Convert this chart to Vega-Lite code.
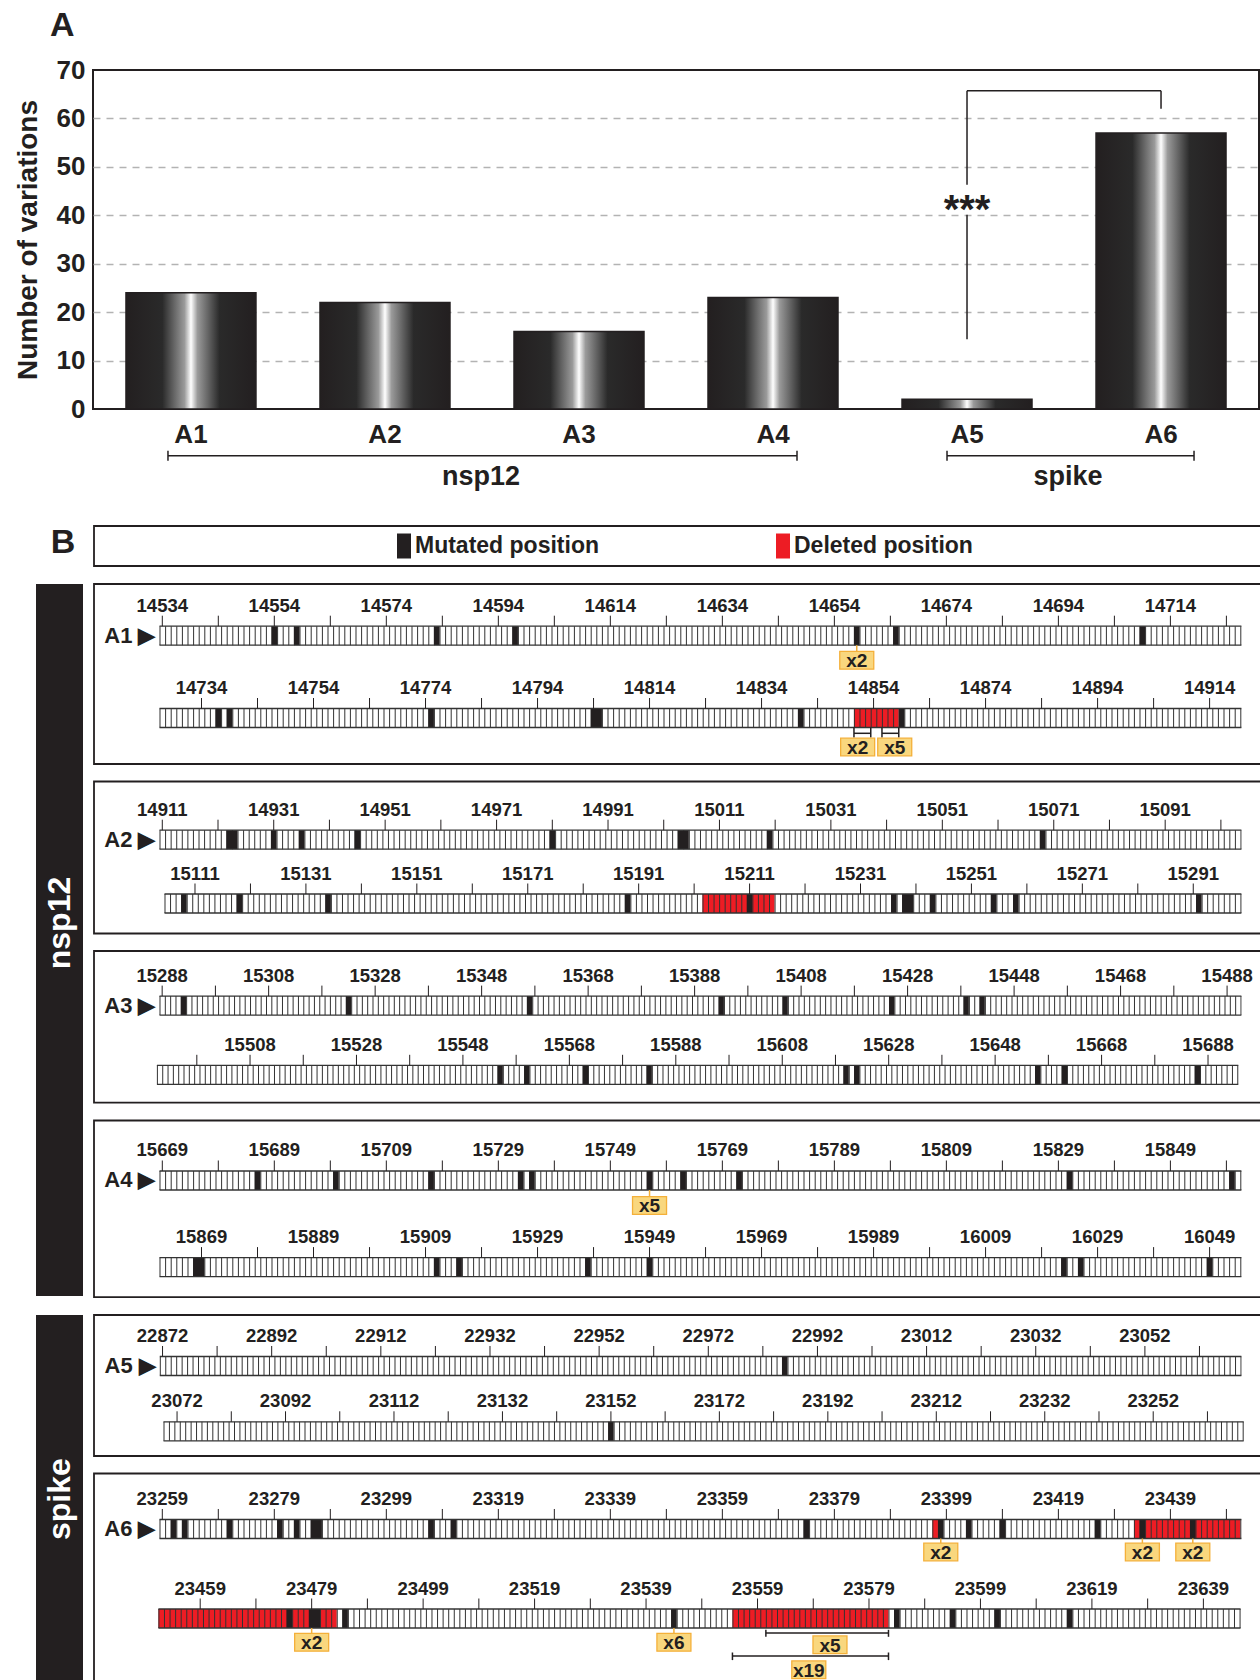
{
"$schema":"https://vega.github.io/schema/vega-lite/v6.json",
"padding":{"left":13,"top":8,"right":0,"bottom":0},
"background":"white",
"spacing":16,
"config":{"view":{"stroke":null},"text":{"font":"Liberation Sans","fontWeight":"bold","color":"#231f20"},"rule":{"color":"#231f20"},"axis":{"labelFont":"Liberation Sans","titleFont":"Liberation Sans"},"title":{"font":"Liberation Sans"}},
"vconcat":[
{"bounds":"flush","spacing":10,"hconcat":[
{"width":47,"height":1,"data":{"values":[{}]},"mark":{"type":"point","size":0,"opacity":0}},
{
"width":1166,"height":339,
"view":{"stroke":"#231f20","strokeWidth":2},
"title":{"text":"A","anchor":"start","frame":"group","dx":-43,"offset":14,"fontSize":34,"fontWeight":"bold","color":"#231f20"},
"layer":[
{"data":{"values":[{"g":"A1","n":24},{"g":"A2","n":22},{"g":"A3","n":16},{"g":"A4","n":23},{"g":"A5","n":2},{"g":"A6","n":57}]},
"mark":{"type":"bar","fill":{"gradient":"linear","x1":0,"y1":0,"x2":1,"y2":0,"stops":[{"offset":0,"color":"#231f20"},{"offset":0.28,"color":"#2a2a2a"},{"offset":0.45,"color":"#9a9a9a"},{"offset":0.5,"color":"#ffffff"},{"offset":0.55,"color":"#9a9a9a"},{"offset":0.72,"color":"#2a2a2a"},{"offset":1,"color":"#231f20"}]},"stroke":"#231f20","strokeWidth":1.5},
"encoding":{
"x":{"field":"g","type":"nominal","scale":{"domain":["A1","A2","A3","A4","A5","A6"],"paddingInner":0.33,"paddingOuter":0.17},"axis":{"title":null,"labelAngle":0,"labelFontSize":26,"labelFontWeight":"bold","labelColor":"#231f20","labelPadding":12,"ticks":false,"domain":false}},
"y":{"field":"n","type":"quantitative","scale":{"domain":[0,70],"nice":false},"axis":{"title":"Number of variations","titleFontSize":28,"titleFontWeight":"bold","titleColor":"#231f20","titlePadding":14,"labelFontSize":26,"labelFontWeight":"bold","labelColor":"#231f20","labelPadding":8,"ticks":false,"domain":false,"values":[0,10,20,30,40,50,60,70],"grid":true,"gridColor":"#b3b3b3","gridDash":[7,6],"gridWidth":1.5,"gridOpacity":{"condition":{"test":"datum.value==0 || datum.value==70","value":0},"value":1}}}
}},
{"data":{"values":[{"g":"A5"}]},"mark":{"type":"rule","strokeWidth":1.5},"encoding":{"x":{"field":"g","type":"nominal"},"y":{"datum":14.4,"type":"quantitative"},"y2":{"datum":40.1}}},
{"data":{"values":[{"g":"A5"}]},"mark":{"type":"rule","strokeWidth":1.5},"encoding":{"x":{"field":"g","type":"nominal"},"y":{"datum":46.3,"type":"quantitative"},"y2":{"datum":65.7}}},
{"data":{"values":[{"g":"A6"}]},"mark":{"type":"rule","strokeWidth":1.5},"encoding":{"x":{"field":"g","type":"nominal"},"y":{"datum":62,"type":"quantitative"},"y2":{"datum":65.7}}},
{"data":{"values":[{"g":"A5"},{"g":"A6"}]},"mark":{"type":"line","strokeWidth":1.5,"color":"#231f20"},"encoding":{"x":{"field":"g","type":"nominal"},"y":{"datum":65.7,"type":"quantitative"}}},
{"data":{"values":[{"g":"A5"}]},"mark":{"type":"text","text":"***","fontSize":40,"baseline":"middle","dy":12},"encoding":{"x":{"field":"g","type":"nominal"},"y":{"datum":43.4,"type":"quantitative"}}},
{"data":{"values":[{"g":"A1","h":"A4"}]},"mark":{"type":"rule","strokeWidth":1.5,"xOffset":-23,"x2Offset":24},"encoding":{"x":{"field":"g","type":"nominal"},"x2":{"field":"h","bandPosition":0.5},"y":{"datum":-9.64,"type":"quantitative"}}},
{"data":{"values":[{"g":"A1"}]},"mark":{"type":"rule","strokeWidth":1.5,"xOffset":-23,"yOffset":-5,"y2Offset":5},"encoding":{"x":{"field":"g","type":"nominal"},"y":{"datum":-9.64,"type":"quantitative"},"y2":{"datum":-9.64}}},
{"data":{"values":[{"g":"A4"}]},"mark":{"type":"rule","strokeWidth":1.5,"xOffset":24,"yOffset":-5,"y2Offset":5},"encoding":{"x":{"field":"g","type":"nominal"},"y":{"datum":-9.64,"type":"quantitative"},"y2":{"datum":-9.64}}},
{"data":{"values":[{"g":"A5","h":"A6"}]},"mark":{"type":"rule","strokeWidth":1.5,"xOffset":-20,"x2Offset":33},"encoding":{"x":{"field":"g","type":"nominal"},"x2":{"field":"h","bandPosition":0.5},"y":{"datum":-9.64,"type":"quantitative"}}},
{"data":{"values":[{"g":"A5"}]},"mark":{"type":"rule","strokeWidth":1.5,"xOffset":-20,"yOffset":-5,"y2Offset":5},"encoding":{"x":{"field":"g","type":"nominal"},"y":{"datum":-9.64,"type":"quantitative"},"y2":{"datum":-9.64}}},
{"data":{"values":[{"g":"A6"}]},"mark":{"type":"rule","strokeWidth":1.5,"xOffset":33,"yOffset":-5,"y2Offset":5},"encoding":{"x":{"field":"g","type":"nominal"},"y":{"datum":-9.64,"type":"quantitative"},"y2":{"datum":-9.64}}},
{"data":{"values":[{"g":"A3"}]},"mark":{"type":"text","text":"nsp12","fontSize":27,"baseline":"middle","xOffset":-98},"encoding":{"x":{"field":"g","type":"nominal"},"y":{"datum":-14.1,"type":"quantitative"}}},
{"data":{"values":[{"g":"A6"}]},"mark":{"type":"text","text":"spike","fontSize":27,"baseline":"middle","xOffset":-93},"encoding":{"x":{"field":"g","type":"nominal"},"y":{"datum":-14.1,"type":"quantitative"}}}
]
}
]},
{"width":47,"height":1,"data":{"values":[{}]},"mark":{"type":"point","size":0,"opacity":0}},
{"spacing":10,"hconcat":[
{"width":47,"height":40,"data":{"values":[{}]},"mark":{"type":"text","text":"B","fontSize":34,"baseline":"middle","dx":3.5,"dy":-3}},
{"width":1168,"height":40,"view":{"stroke":"#231f20","strokeWidth":1.8},
"data":{"values":[{"t":"Mutated position","c":"m"},{"t":"Deleted position","c":"d"}]},
"encoding":{"x":{"field":"t","type":"nominal","sort":null,"scale":{"type":"point","padding":0,"range":[321,700]},"axis":null}},
"layer":[
{"mark":{"type":"point","shape":"M-0.56,-1H0.56V1H-0.56Z","size":625,"filled":true,"opacity":1,"xOffset":-11},"encoding":{"color":{"field":"c","type":"nominal","scale":{"domain":["m","d"],"range":["#231f20","#ed1c24"]},"legend":null}}},
{"mark":{"type":"text","align":"left","baseline":"middle","fontSize":23},"encoding":{"text":{"field":"t"}}}
]}
]},
{"spacing":10,"hconcat":[
{"width":47,"height":712,"view":{"fill":"#231f20","stroke":null},"data":{"values":[{}]},"mark":{"type":"text","text":"nsp12","angle":270,"fontSize":32,"color":"#ffffff","baseline":"middle","dx":17}},
{"spacing":15.5,"vconcat":[
{"width":1168,"height":180,"view":{"stroke":"#231f20","strokeWidth":1.8},"resolve":{"scale":{"x":"independent"}},"layer":[
{"data":{"values":[{"k":"s","a":0,"b":193},{"k":"n","a":0,"t":"A1 ▶"},
{"k":"l","a":0,"t":"14534"},{"k":"l","a":20,"t":"14554"},{"k":"l","a":40,"t":"14574"},{"k":"l","a":60,"t":"14594"},{"k":"l","a":80,"t":"14614"},{"k":"l","a":100,"t":"14634"},{"k":"l","a":120,"t":"14654"},{"k":"l","a":140,"t":"14674"},{"k":"l","a":160,"t":"14694"},{"k":"l","a":180,"t":"14714"},
{"k":"m","a":20,"b":21},{"k":"m","a":24,"b":25},{"k":"m","a":49,"b":50},{"k":"m","a":63,"b":64},{"k":"m","a":124,"b":125},{"k":"m","a":131,"b":132},{"k":"m","a":175,"b":176},
{"k":"x","a":124,"t":"x2"}]},
"encoding":{"x":{"field":"a","type":"quantitative","scale":{"domain":[-11.695,196.857],"nice":false,"zero":false},"axis":null},"y":{"datum":1,"type":"quantitative","scale":{"domain":[0.3718,2.5589],"nice":false,"zero":false,"reverse":true},"axis":null}},
"layer":[
{"transform":[{"filter":"datum.k=='s'"}],"mark":{"type":"rule","strokeWidth":19,"strokeDash":[1,4.6],"x2Offset":1,"color":"#333333"},"encoding":{"x2":{"field":"b"}}},
{"transform":[{"filter":"datum.k=='m'"}],"mark":{"type":"rule","strokeWidth":19,"color":"#231f20"},"encoding":{"x2":{"field":"b"}}},
{"transform":[{"filter":"datum.k=='s'"}],"mark":{"type":"rule","strokeWidth":1.3,"color":"#333333","yOffset":-9.5,"x2Offset":1},"encoding":{"x2":{"field":"b"}}},
{"transform":[{"filter":"datum.k=='s'"}],"mark":{"type":"rule","strokeWidth":1.3,"color":"#333333","yOffset":9.5,"x2Offset":1},"encoding":{"x2":{"field":"b"}}},
{"transform":[{"filter":"datum.k=='l'"}],"mark":{"type":"rule","strokeWidth":1,"xOffset":2.8,"yOffset":-20,"y2Offset":-9.5},"encoding":{"y2":{"datum":1}}},
{"transform":[{"filter":"datum.k=='l' && datum.a<183"}],"mark":{"type":"rule","strokeWidth":1,"xOffset":58.81,"yOffset":-20,"y2Offset":-9.5},"encoding":{"y2":{"datum":1}}},
{"transform":[{"filter":"datum.k=='l'"}],"mark":{"type":"text","fontSize":18.5,"xOffset":2.8,"yOffset":-30,"baseline":"middle"},"encoding":{"text":{"field":"t"}}},
{"transform":[{"filter":"datum.k=='n'"}],"mark":{"type":"text","fontSize":22,"align":"right","baseline":"middle","dx":-4},"encoding":{"text":{"field":"t"}}},
{"transform":[{"filter":"datum.k=='x'"}],"mark":{"type":"rule","color":"#f4b03a","strokeWidth":1.5,"xOffset":2.8,"yOffset":9.5,"y2Offset":15.75},"encoding":{"y2":{"datum":1}}},
{"transform":[{"filter":"datum.k=='x'"}],"mark":{"type":"point","shape":"M-1,-0.52H1V0.52H-1Z","size":1156,"filled":true,"fill":"#f9d77e","stroke":"#f4b03a","strokeWidth":1.3,"opacity":1,"xOffset":2.8,"yOffset":24.6}},
{"transform":[{"filter":"datum.k=='x'"}],"mark":{"type":"text","fontSize":19,"baseline":"middle","xOffset":2.8,"yOffset":25.6},"encoding":{"text":{"field":"t"}}}
]},
{"data":{"values":[{"k":"s","a":0,"b":193},
{"k":"l","a":7,"t":"14734"},{"k":"l","a":27,"t":"14754"},{"k":"l","a":47,"t":"14774"},{"k":"l","a":67,"t":"14794"},{"k":"l","a":87,"t":"14814"},{"k":"l","a":107,"t":"14834"},{"k":"l","a":127,"t":"14854"},{"k":"l","a":147,"t":"14874"},{"k":"l","a":167,"t":"14894"},{"k":"l","a":187,"t":"14914"},
{"k":"d","a":124,"b":132},
{"k":"m","a":10,"b":11},{"k":"m","a":12,"b":13},{"k":"m","a":48,"b":49},{"k":"m","a":77,"b":79},{"k":"m","a":114,"b":115},{"k":"m","a":132,"b":133},
{"k":"br","a":124,"b":127},{"k":"br","a":129,"b":132},
{"k":"x","a":124.16,"t":"x2"},{"k":"x","a":130.78,"t":"x5"}]},
"encoding":{"x":{"field":"a","type":"quantitative","scale":{"domain":[-11.695,196.857],"nice":false,"zero":false},"axis":null},"y":{"datum":2,"type":"quantitative","scale":{"domain":[0.3718,2.5589],"nice":false,"zero":false,"reverse":true},"axis":null}},
"layer":[
{"transform":[{"filter":"datum.k=='d'"}],"mark":{"type":"rule","strokeWidth":19,"color":"#ed1c24"},"encoding":{"x2":{"field":"b"}}},
{"transform":[{"filter":"datum.k=='s'"}],"mark":{"type":"rule","strokeWidth":19,"strokeDash":[1,4.6],"x2Offset":1,"color":"#333333"},"encoding":{"x2":{"field":"b"}}},
{"transform":[{"filter":"datum.k=='m'"}],"mark":{"type":"rule","strokeWidth":19,"color":"#231f20"},"encoding":{"x2":{"field":"b"}}},
{"transform":[{"filter":"datum.k=='s'"}],"mark":{"type":"rule","strokeWidth":1.3,"color":"#333333","yOffset":-9.5,"x2Offset":1},"encoding":{"x2":{"field":"b"}}},
{"transform":[{"filter":"datum.k=='s'"}],"mark":{"type":"rule","strokeWidth":1.3,"color":"#333333","yOffset":9.5,"x2Offset":1},"encoding":{"x2":{"field":"b"}}},
{"transform":[{"filter":"datum.k=='l'"}],"mark":{"type":"rule","strokeWidth":1,"xOffset":2.8,"yOffset":-20,"y2Offset":-9.5},"encoding":{"y2":{"datum":2}}},
{"transform":[{"filter":"datum.k=='l' && datum.a<183"}],"mark":{"type":"rule","strokeWidth":1,"xOffset":58.81,"yOffset":-20,"y2Offset":-9.5},"encoding":{"y2":{"datum":2}}},
{"transform":[{"filter":"datum.k=='l'"}],"mark":{"type":"text","fontSize":18.5,"xOffset":2.8,"yOffset":-30,"baseline":"middle"},"encoding":{"text":{"field":"t"}}},
{"transform":[{"filter":"datum.k=='br'"}],"mark":{"type":"rule","strokeWidth":1.5,"yOffset":15.3},"encoding":{"x2":{"field":"b"}}},
{"transform":[{"filter":"datum.k=='br'"}],"mark":{"type":"rule","strokeWidth":1.5,"yOffset":9.5,"y2Offset":19.5},"encoding":{"y2":{"datum":2}}},
{"transform":[{"filter":"datum.k=='br'"}],"mark":{"type":"rule","strokeWidth":1.5,"yOffset":9.5,"y2Offset":19.5},"encoding":{"x":{"field":"b","type":"quantitative"},"y2":{"datum":2}}},
{"transform":[{"filter":"datum.k=='x'"}],"mark":{"type":"point","shape":"M-1,-0.52H1V0.52H-1Z","size":1156,"filled":true,"fill":"#f9d77e","stroke":"#f4b03a","strokeWidth":1.3,"opacity":1,"xOffset":2.8,"yOffset":29}},
{"transform":[{"filter":"datum.k=='x'"}],"mark":{"type":"text","fontSize":19,"baseline":"middle","xOffset":2.8,"yOffset":30},"encoding":{"text":{"field":"t"}}}
]}
]},
{"width":1168,"height":152,"view":{"stroke":"#231f20","strokeWidth":1.8},"resolve":{"scale":{"x":"independent"}},"layer":[
{"data":{"values":[{"k":"s","a":0,"b":194},{"k":"n","a":0,"t":"A2 ▶"},
{"k":"l","a":0,"t":"14911"},{"k":"l","a":20,"t":"14931"},{"k":"l","a":40,"t":"14951"},{"k":"l","a":60,"t":"14971"},{"k":"l","a":80,"t":"14991"},{"k":"l","a":100,"t":"15011"},{"k":"l","a":120,"t":"15031"},{"k":"l","a":140,"t":"15051"},{"k":"l","a":160,"t":"15071"},{"k":"l","a":180,"t":"15091"},
{"k":"m","a":12,"b":14},{"k":"m","a":20,"b":21},{"k":"m","a":25,"b":26},{"k":"m","a":35,"b":36},{"k":"m","a":70,"b":71},{"k":"m","a":93,"b":95},{"k":"m","a":109,"b":110},{"k":"m","a":158,"b":159}]},
"encoding":{"x":{"field":"a","type":"quantitative","scale":{"domain":[-11.756,197.877],"nice":false,"zero":false},"axis":null},"y":{"datum":1,"type":"quantitative","scale":{"domain":[0.0878,2.4702],"nice":false,"zero":false,"reverse":true},"axis":null}},
"layer":[
{"transform":[{"filter":"datum.k=='s'"}],"mark":{"type":"rule","strokeWidth":19,"strokeDash":[1,4.572],"x2Offset":1,"color":"#333333"},"encoding":{"x2":{"field":"b"}}},
{"transform":[{"filter":"datum.k=='m'"}],"mark":{"type":"rule","strokeWidth":19,"color":"#231f20"},"encoding":{"x2":{"field":"b"}}},
{"transform":[{"filter":"datum.k=='s'"}],"mark":{"type":"rule","strokeWidth":1.3,"color":"#333333","yOffset":-9.5,"x2Offset":1},"encoding":{"x2":{"field":"b"}}},
{"transform":[{"filter":"datum.k=='s'"}],"mark":{"type":"rule","strokeWidth":1.3,"color":"#333333","yOffset":9.5,"x2Offset":1},"encoding":{"x2":{"field":"b"}}},
{"transform":[{"filter":"datum.k=='l'"}],"mark":{"type":"rule","strokeWidth":1,"xOffset":2.79,"yOffset":-20,"y2Offset":-9.5},"encoding":{"y2":{"datum":1}}},
{"transform":[{"filter":"datum.k=='l' && datum.a<184"}],"mark":{"type":"rule","strokeWidth":1,"xOffset":58.5,"yOffset":-20,"y2Offset":-9.5},"encoding":{"y2":{"datum":1}}},
{"transform":[{"filter":"datum.k=='l'"}],"mark":{"type":"text","fontSize":18.5,"xOffset":2.79,"yOffset":-30,"baseline":"middle"},"encoding":{"text":{"field":"t"}}},
{"transform":[{"filter":"datum.k=='n'"}],"mark":{"type":"text","fontSize":22,"align":"right","baseline":"middle","dx":-4},"encoding":{"text":{"field":"t"}}}
]},
{"data":{"values":[{"k":"s","a":0,"b":194},
{"k":"l","a":5,"t":"15111"},{"k":"l","a":25,"t":"15131"},{"k":"l","a":45,"t":"15151"},{"k":"l","a":65,"t":"15171"},{"k":"l","a":85,"t":"15191"},{"k":"l","a":105,"t":"15211"},{"k":"l","a":125,"t":"15231"},{"k":"l","a":145,"t":"15251"},{"k":"l","a":165,"t":"15271"},{"k":"l","a":185,"t":"15291"},
{"k":"d","a":97,"b":110},
{"k":"m","a":3,"b":4},{"k":"m","a":13,"b":14},{"k":"m","a":29,"b":30},{"k":"m","a":83,"b":84},{"k":"m","a":105,"b":106},{"k":"m","a":131,"b":132},{"k":"m","a":133,"b":135},{"k":"m","a":138,"b":139},{"k":"m","a":149,"b":150},{"k":"m","a":153,"b":154},{"k":"m","a":186,"b":187}]},
"encoding":{"x":{"field":"a","type":"quantitative","scale":{"domain":[-12.712,197.895],"nice":false,"zero":false},"axis":null},"y":{"datum":2,"type":"quantitative","scale":{"domain":[0.0878,2.4702],"nice":false,"zero":false,"reverse":true},"axis":null}},
"layer":[
{"transform":[{"filter":"datum.k=='d'"}],"mark":{"type":"rule","strokeWidth":19,"color":"#ed1c24"},"encoding":{"x2":{"field":"b"}}},
{"transform":[{"filter":"datum.k=='s'"}],"mark":{"type":"rule","strokeWidth":19,"strokeDash":[1,4.546],"x2Offset":1,"color":"#333333"},"encoding":{"x2":{"field":"b"}}},
{"transform":[{"filter":"datum.k=='m'"}],"mark":{"type":"rule","strokeWidth":19,"color":"#231f20"},"encoding":{"x2":{"field":"b"}}},
{"transform":[{"filter":"datum.k=='s'"}],"mark":{"type":"rule","strokeWidth":1.3,"color":"#333333","yOffset":-9.5,"x2Offset":1},"encoding":{"x2":{"field":"b"}}},
{"transform":[{"filter":"datum.k=='s'"}],"mark":{"type":"rule","strokeWidth":1.3,"color":"#333333","yOffset":9.5,"x2Offset":1},"encoding":{"x2":{"field":"b"}}},
{"transform":[{"filter":"datum.k=='l'"}],"mark":{"type":"rule","strokeWidth":1,"xOffset":2.77,"yOffset":-20,"y2Offset":-9.5},"encoding":{"y2":{"datum":2}}},
{"transform":[{"filter":"datum.k=='l' && datum.a<184"}],"mark":{"type":"rule","strokeWidth":1,"xOffset":58.23,"yOffset":-20,"y2Offset":-9.5},"encoding":{"y2":{"datum":2}}},
{"transform":[{"filter":"datum.k=='l'"}],"mark":{"type":"text","fontSize":18.5,"xOffset":2.77,"yOffset":-30,"baseline":"middle"},"encoding":{"text":{"field":"t"}}}
]}
]},
{"width":1168,"height":151.6,"view":{"stroke":"#231f20","strokeWidth":1.8},"resolve":{"scale":{"x":"independent"}},"layer":[
{"data":{"values":[{"k":"s","a":0,"b":203},{"k":"n","a":0,"t":"A3 ▶"},
{"k":"l","a":0,"t":"15288"},{"k":"l","a":20,"t":"15308"},{"k":"l","a":40,"t":"15328"},{"k":"l","a":60,"t":"15348"},{"k":"l","a":80,"t":"15368"},{"k":"l","a":100,"t":"15388"},{"k":"l","a":120,"t":"15408"},{"k":"l","a":140,"t":"15428"},{"k":"l","a":160,"t":"15448"},{"k":"l","a":180,"t":"15468"},{"k":"l","a":200,"t":"15488"},
{"k":"m","a":4,"b":5},{"k":"m","a":35,"b":36},{"k":"m","a":69,"b":70},{"k":"m","a":105,"b":106},{"k":"m","a":117,"b":118},{"k":"m","a":137,"b":138},{"k":"m","a":151,"b":152},{"k":"m","a":154,"b":155}]},
"encoding":{"x":{"field":"a","type":"quantitative","scale":{"domain":[-12.301,207.057],"nice":false,"zero":false},"axis":null},"y":{"datum":1,"type":"quantitative","scale":{"domain":[0.211,2.4017],"nice":false,"zero":false,"reverse":true},"axis":null}},
"layer":[
{"transform":[{"filter":"datum.k=='s'"}],"mark":{"type":"rule","strokeWidth":19,"strokeDash":[1,4.325],"x2Offset":1,"color":"#333333"},"encoding":{"x2":{"field":"b"}}},
{"transform":[{"filter":"datum.k=='m'"}],"mark":{"type":"rule","strokeWidth":19,"color":"#231f20"},"encoding":{"x2":{"field":"b"}}},
{"transform":[{"filter":"datum.k=='s'"}],"mark":{"type":"rule","strokeWidth":1.3,"color":"#333333","yOffset":-9.5,"x2Offset":1},"encoding":{"x2":{"field":"b"}}},
{"transform":[{"filter":"datum.k=='s'"}],"mark":{"type":"rule","strokeWidth":1.3,"color":"#333333","yOffset":9.5,"x2Offset":1},"encoding":{"x2":{"field":"b"}}},
{"transform":[{"filter":"datum.k=='l'"}],"mark":{"type":"rule","strokeWidth":1,"xOffset":2.66,"yOffset":-20,"y2Offset":-9.5},"encoding":{"y2":{"datum":1}}},
{"transform":[{"filter":"datum.k=='l' && datum.a<193"}],"mark":{"type":"rule","strokeWidth":1,"xOffset":55.91,"yOffset":-20,"y2Offset":-9.5},"encoding":{"y2":{"datum":1}}},
{"transform":[{"filter":"datum.k=='l'"}],"mark":{"type":"text","fontSize":18.5,"xOffset":2.66,"yOffset":-30,"baseline":"middle"},"encoding":{"text":{"field":"t"}}},
{"transform":[{"filter":"datum.k=='n'"}],"mark":{"type":"text","fontSize":22,"align":"right","baseline":"middle","dx":-4},"encoding":{"text":{"field":"t"}}}
]},
{"data":{"values":[{"k":"s","a":0,"b":203},
{"k":"l","a":17,"t":"15508"},{"k":"l","a":37,"t":"15528"},{"k":"l","a":57,"t":"15548"},{"k":"l","a":77,"t":"15568"},{"k":"l","a":97,"t":"15588"},{"k":"l","a":117,"t":"15608"},{"k":"l","a":137,"t":"15628"},{"k":"l","a":157,"t":"15648"},{"k":"l","a":177,"t":"15668"},{"k":"l","a":197,"t":"15688"},
{"k":"m","a":64,"b":65},{"k":"m","a":69,"b":70},{"k":"m","a":80,"b":81},{"k":"m","a":92,"b":93},{"k":"m","a":129,"b":130},{"k":"m","a":131,"b":132},{"k":"m","a":165,"b":166},{"k":"m","a":170,"b":171},{"k":"m","a":195,"b":196}]},
"encoding":{"x":{"field":"a","type":"quantitative","scale":{"domain":[-11.818,207.641],"nice":false,"zero":false},"axis":null},"y":{"datum":2,"type":"quantitative","scale":{"domain":[0.211,2.4017],"nice":false,"zero":false,"reverse":true},"axis":null}},
"layer":[
{"transform":[{"filter":"datum.k=='s'"}],"mark":{"type":"rule","strokeWidth":19,"strokeDash":[1,4.322],"x2Offset":1,"color":"#333333"},"encoding":{"x2":{"field":"b"}}},
{"transform":[{"filter":"datum.k=='m'"}],"mark":{"type":"rule","strokeWidth":19,"color":"#231f20"},"encoding":{"x2":{"field":"b"}}},
{"transform":[{"filter":"datum.k=='s'"}],"mark":{"type":"rule","strokeWidth":1.3,"color":"#333333","yOffset":-9.5,"x2Offset":1},"encoding":{"x2":{"field":"b"}}},
{"transform":[{"filter":"datum.k=='s'"}],"mark":{"type":"rule","strokeWidth":1.3,"color":"#333333","yOffset":9.5,"x2Offset":1},"encoding":{"x2":{"field":"b"}}},
{"transform":[{"filter":"datum.k=='l'"}],"mark":{"type":"rule","strokeWidth":1,"xOffset":2.66,"yOffset":-20,"y2Offset":-9.5},"encoding":{"y2":{"datum":2}}},
{"transform":[{"filter":"datum.k=='l' && datum.a<193"}],"mark":{"type":"rule","strokeWidth":1,"xOffset":55.88,"yOffset":-20,"y2Offset":-9.5},"encoding":{"y2":{"datum":2}}},
{"transform":[{"filter":"datum.k=='l' && datum.a>=10 && datum.a<20"}],"mark":{"type":"rule","strokeWidth":1,"xOffset":-50.56,"yOffset":-20,"y2Offset":-9.5},"encoding":{"y2":{"datum":2}}},
{"transform":[{"filter":"datum.k=='l'"}],"mark":{"type":"text","fontSize":18.5,"xOffset":2.66,"yOffset":-30,"baseline":"middle"},"encoding":{"text":{"field":"t"}}}
]}
]},
{"width":1168,"height":176.6,"view":{"stroke":"#231f20","strokeWidth":1.8},"resolve":{"scale":{"x":"independent"}},"layer":[
{"data":{"values":[{"k":"s","a":0,"b":193},{"k":"n","a":0,"t":"A4 ▶"},
{"k":"l","a":0,"t":"15669"},{"k":"l","a":20,"t":"15689"},{"k":"l","a":40,"t":"15709"},{"k":"l","a":60,"t":"15729"},{"k":"l","a":80,"t":"15749"},{"k":"l","a":100,"t":"15769"},{"k":"l","a":120,"t":"15789"},{"k":"l","a":140,"t":"15809"},{"k":"l","a":160,"t":"15829"},{"k":"l","a":180,"t":"15849"},
{"k":"m","a":17,"b":18},{"k":"m","a":31,"b":32},{"k":"m","a":48,"b":49},{"k":"m","a":64,"b":65},{"k":"m","a":66,"b":67},{"k":"m","a":87,"b":88},{"k":"m","a":93,"b":94},{"k":"m","a":103,"b":104},{"k":"m","a":162,"b":163},{"k":"m","a":191,"b":192},
{"k":"x","a":87,"t":"x5"}]},
"encoding":{"x":{"field":"a","type":"quantitative","scale":{"domain":[-11.695,196.857],"nice":false,"zero":false},"axis":null},"y":{"datum":1,"type":"quantitative","scale":{"domain":[0.3072,2.3464],"nice":false,"zero":false,"reverse":true},"axis":null}},
"layer":[
{"transform":[{"filter":"datum.k=='s'"}],"mark":{"type":"rule","strokeWidth":19,"strokeDash":[1,4.6],"x2Offset":1,"color":"#333333"},"encoding":{"x2":{"field":"b"}}},
{"transform":[{"filter":"datum.k=='m'"}],"mark":{"type":"rule","strokeWidth":19,"color":"#231f20"},"encoding":{"x2":{"field":"b"}}},
{"transform":[{"filter":"datum.k=='s'"}],"mark":{"type":"rule","strokeWidth":1.3,"color":"#333333","yOffset":-9.5,"x2Offset":1},"encoding":{"x2":{"field":"b"}}},
{"transform":[{"filter":"datum.k=='s'"}],"mark":{"type":"rule","strokeWidth":1.3,"color":"#333333","yOffset":9.5,"x2Offset":1},"encoding":{"x2":{"field":"b"}}},
{"transform":[{"filter":"datum.k=='l'"}],"mark":{"type":"rule","strokeWidth":1,"xOffset":2.8,"yOffset":-20,"y2Offset":-9.5},"encoding":{"y2":{"datum":1}}},
{"transform":[{"filter":"datum.k=='l' && datum.a<183"}],"mark":{"type":"rule","strokeWidth":1,"xOffset":58.81,"yOffset":-20,"y2Offset":-9.5},"encoding":{"y2":{"datum":1}}},
{"transform":[{"filter":"datum.k=='l'"}],"mark":{"type":"text","fontSize":18.5,"xOffset":2.8,"yOffset":-30,"baseline":"middle"},"encoding":{"text":{"field":"t"}}},
{"transform":[{"filter":"datum.k=='n'"}],"mark":{"type":"text","fontSize":22,"align":"right","baseline":"middle","dx":-4},"encoding":{"text":{"field":"t"}}},
{"transform":[{"filter":"datum.k=='x'"}],"mark":{"type":"rule","color":"#f4b03a","strokeWidth":1.5,"xOffset":2.8,"yOffset":9.5,"y2Offset":16.2},"encoding":{"y2":{"datum":1}}},
{"transform":[{"filter":"datum.k=='x'"}],"mark":{"type":"point","shape":"M-1,-0.52H1V0.52H-1Z","size":1156,"filled":true,"fill":"#f9d77e","stroke":"#f4b03a","strokeWidth":1.3,"opacity":1,"xOffset":2.8,"yOffset":25}},
{"transform":[{"filter":"datum.k=='x'"}],"mark":{"type":"text","fontSize":19,"baseline":"middle","xOffset":2.8,"yOffset":26},"encoding":{"text":{"field":"t"}}}
]},
{"data":{"values":[{"k":"s","a":0,"b":193},
{"k":"l","a":7,"t":"15869"},{"k":"l","a":27,"t":"15889"},{"k":"l","a":47,"t":"15909"},{"k":"l","a":67,"t":"15929"},{"k":"l","a":87,"t":"15949"},{"k":"l","a":107,"t":"15969"},{"k":"l","a":127,"t":"15989"},{"k":"l","a":147,"t":"16009"},{"k":"l","a":167,"t":"16029"},{"k":"l","a":187,"t":"16049"},
{"k":"m","a":6,"b":8},{"k":"m","a":49,"b":50},{"k":"m","a":53,"b":54},{"k":"m","a":76,"b":77},{"k":"m","a":87,"b":88},{"k":"m","a":161,"b":162},{"k":"m","a":164,"b":165},{"k":"m","a":187,"b":188}]},
"encoding":{"x":{"field":"a","type":"quantitative","scale":{"domain":[-11.695,196.857],"nice":false,"zero":false},"axis":null},"y":{"datum":2,"type":"quantitative","scale":{"domain":[0.3072,2.3464],"nice":false,"zero":false,"reverse":true},"axis":null}},
"layer":[
{"transform":[{"filter":"datum.k=='s'"}],"mark":{"type":"rule","strokeWidth":19,"strokeDash":[1,4.6],"x2Offset":1,"color":"#333333"},"encoding":{"x2":{"field":"b"}}},
{"transform":[{"filter":"datum.k=='m'"}],"mark":{"type":"rule","strokeWidth":19,"color":"#231f20"},"encoding":{"x2":{"field":"b"}}},
{"transform":[{"filter":"datum.k=='s'"}],"mark":{"type":"rule","strokeWidth":1.3,"color":"#333333","yOffset":-9.5,"x2Offset":1},"encoding":{"x2":{"field":"b"}}},
{"transform":[{"filter":"datum.k=='s'"}],"mark":{"type":"rule","strokeWidth":1.3,"color":"#333333","yOffset":9.5,"x2Offset":1},"encoding":{"x2":{"field":"b"}}},
{"transform":[{"filter":"datum.k=='l'"}],"mark":{"type":"rule","strokeWidth":1,"xOffset":2.8,"yOffset":-20,"y2Offset":-9.5},"encoding":{"y2":{"datum":2}}},
{"transform":[{"filter":"datum.k=='l' && datum.a<183"}],"mark":{"type":"rule","strokeWidth":1,"xOffset":58.81,"yOffset":-20,"y2Offset":-9.5},"encoding":{"y2":{"datum":2}}},
{"transform":[{"filter":"datum.k=='l'"}],"mark":{"type":"text","fontSize":18.5,"xOffset":2.8,"yOffset":-30,"baseline":"middle"},"encoding":{"text":{"field":"t"}}}
]}
]}
]}
]},
{"spacing":10,"hconcat":[
{"width":47,"height":388.3,"view":{"fill":"#231f20","stroke":null},"data":{"values":[{}]},"mark":{"type":"text","text":"spike","angle":270,"fontSize":32,"color":"#ffffff","baseline":"middle","dx":10}},
{"spacing":15.5,"vconcat":[
{"width":1168,"height":141,"view":{"stroke":"#231f20","strokeWidth":1.8},"resolve":{"scale":{"x":"independent"}},"layer":[
{"data":{"values":[{"k":"s","a":0,"b":198},{"k":"n","a":0,"t":"A5 ▶"},
{"k":"l","a":0,"t":"22872"},{"k":"l","a":20,"t":"22892"},{"k":"l","a":40,"t":"22912"},{"k":"l","a":60,"t":"22932"},{"k":"l","a":80,"t":"22952"},{"k":"l","a":100,"t":"22972"},{"k":"l","a":120,"t":"22992"},{"k":"l","a":140,"t":"23012"},{"k":"l","a":160,"t":"23032"},{"k":"l","a":180,"t":"23052"},
{"k":"m","a":114,"b":115}]},
"encoding":{"x":{"field":"a","type":"quantitative","scale":{"domain":[-12.057,201.958],"nice":false,"zero":false},"axis":null},"y":{"datum":1,"type":"quantitative","scale":{"domain":[0.219,2.3783],"nice":false,"zero":false,"reverse":true},"axis":null}},
"layer":[
{"transform":[{"filter":"datum.k=='s'"}],"mark":{"type":"rule","strokeWidth":19,"strokeDash":[1,4.458],"x2Offset":1,"color":"#333333"},"encoding":{"x2":{"field":"b"}}},
{"transform":[{"filter":"datum.k=='m'"}],"mark":{"type":"rule","strokeWidth":19,"color":"#231f20"},"encoding":{"x2":{"field":"b"}}},
{"transform":[{"filter":"datum.k=='s'"}],"mark":{"type":"rule","strokeWidth":1.3,"color":"#333333","yOffset":-9.5,"x2Offset":1},"encoding":{"x2":{"field":"b"}}},
{"transform":[{"filter":"datum.k=='s'"}],"mark":{"type":"rule","strokeWidth":1.3,"color":"#333333","yOffset":9.5,"x2Offset":1},"encoding":{"x2":{"field":"b"}}},
{"transform":[{"filter":"datum.k=='l'"}],"mark":{"type":"rule","strokeWidth":1,"xOffset":2.73,"yOffset":-20,"y2Offset":-9.5},"encoding":{"y2":{"datum":1}}},
{"transform":[{"filter":"datum.k=='l' && datum.a<188"}],"mark":{"type":"rule","strokeWidth":1,"xOffset":57.3,"yOffset":-20,"y2Offset":-9.5},"encoding":{"y2":{"datum":1}}},
{"transform":[{"filter":"datum.k=='l'"}],"mark":{"type":"text","fontSize":18.5,"xOffset":2.73,"yOffset":-30,"baseline":"middle"},"encoding":{"text":{"field":"t"}}},
{"transform":[{"filter":"datum.k=='n'"}],"mark":{"type":"text","fontSize":22,"align":"right","baseline":"middle","dx":-4},"encoding":{"text":{"field":"t"}}}
]},
{"data":{"values":[{"k":"s","a":0,"b":199},
{"k":"l","a":2,"t":"23072"},{"k":"l","a":22,"t":"23092"},{"k":"l","a":42,"t":"23112"},{"k":"l","a":62,"t":"23132"},{"k":"l","a":82,"t":"23152"},{"k":"l","a":102,"t":"23172"},{"k":"l","a":122,"t":"23192"},{"k":"l","a":142,"t":"23212"},{"k":"l","a":162,"t":"23232"},{"k":"l","a":182,"t":"23252"},
{"k":"m","a":82,"b":83}]},
"encoding":{"x":{"field":"a","type":"quantitative","scale":{"domain":[-12.816,202.559],"nice":false,"zero":false},"axis":null},"y":{"datum":2,"type":"quantitative","scale":{"domain":[0.219,2.3783],"nice":false,"zero":false,"reverse":true},"axis":null}},
"layer":[
{"transform":[{"filter":"datum.k=='s'"}],"mark":{"type":"rule","strokeWidth":19,"strokeDash":[1,4.423],"x2Offset":1,"color":"#333333"},"encoding":{"x2":{"field":"b"}}},
{"transform":[{"filter":"datum.k=='m'"}],"mark":{"type":"rule","strokeWidth":19,"color":"#231f20"},"encoding":{"x2":{"field":"b"}}},
{"transform":[{"filter":"datum.k=='s'"}],"mark":{"type":"rule","strokeWidth":1.3,"color":"#333333","yOffset":-9.5,"x2Offset":1},"encoding":{"x2":{"field":"b"}}},
{"transform":[{"filter":"datum.k=='s'"}],"mark":{"type":"rule","strokeWidth":1.3,"color":"#333333","yOffset":9.5,"x2Offset":1},"encoding":{"x2":{"field":"b"}}},
{"transform":[{"filter":"datum.k=='l'"}],"mark":{"type":"rule","strokeWidth":1,"xOffset":2.71,"yOffset":-20,"y2Offset":-9.5},"encoding":{"y2":{"datum":2}}},
{"transform":[{"filter":"datum.k=='l' && datum.a<189"}],"mark":{"type":"rule","strokeWidth":1,"xOffset":56.94,"yOffset":-20,"y2Offset":-9.5},"encoding":{"y2":{"datum":2}}},
{"transform":[{"filter":"datum.k=='l'"}],"mark":{"type":"text","fontSize":18.5,"xOffset":2.71,"yOffset":-30,"baseline":"middle"},"encoding":{"text":{"field":"t"}}}
]}
]},
{"width":1168,"height":230,"view":{"stroke":"#231f20","strokeWidth":1.8},"resolve":{"scale":{"x":"independent"}},"layer":[
{"data":{"values":[{"k":"s","a":0,"b":193},{"k":"n","a":0,"t":"A6 ▶"},
{"k":"l","a":0,"t":"23259"},{"k":"l","a":20,"t":"23279"},{"k":"l","a":40,"t":"23299"},{"k":"l","a":60,"t":"23319"},{"k":"l","a":80,"t":"23339"},{"k":"l","a":100,"t":"23359"},{"k":"l","a":120,"t":"23379"},{"k":"l","a":140,"t":"23399"},{"k":"l","a":160,"t":"23419"},{"k":"l","a":180,"t":"23439"},
{"k":"d","a":138,"b":139},{"k":"d","a":174,"b":193},
{"k":"m","a":2,"b":3},{"k":"m","a":4,"b":5},{"k":"m","a":12,"b":13},{"k":"m","a":21,"b":22},{"k":"m","a":24,"b":25},{"k":"m","a":27,"b":29},{"k":"m","a":48,"b":49},{"k":"m","a":52,"b":53},{"k":"m","a":115,"b":116},{"k":"m","a":139,"b":140},{"k":"m","a":144,"b":145},{"k":"m","a":150,"b":151},{"k":"m","a":167,"b":168},{"k":"m","a":175,"b":176},{"k":"m","a":184,"b":185},
{"k":"x","a":139,"t":"x2"},{"k":"x","a":175,"t":"x2"},{"k":"x","a":184,"t":"x2"}]},
"encoding":{"x":{"field":"a","type":"quantitative","scale":{"domain":[-11.695,196.857],"nice":false,"zero":false},"axis":null},"y":{"datum":1,"type":"quantitative","scale":{"domain":[0.3799,2.9497],"nice":false,"zero":false,"reverse":true},"axis":null}},
"layer":[
{"transform":[{"filter":"datum.k=='d'"}],"mark":{"type":"rule","strokeWidth":19,"color":"#ed1c24"},"encoding":{"x2":{"field":"b"}}},
{"transform":[{"filter":"datum.k=='s'"}],"mark":{"type":"rule","strokeWidth":19,"strokeDash":[1,4.6],"x2Offset":1,"color":"#333333"},"encoding":{"x2":{"field":"b"}}},
{"transform":[{"filter":"datum.k=='m'"}],"mark":{"type":"rule","strokeWidth":19,"color":"#231f20"},"encoding":{"x2":{"field":"b"}}},
{"transform":[{"filter":"datum.k=='s'"}],"mark":{"type":"rule","strokeWidth":1.3,"color":"#333333","yOffset":-9.5,"x2Offset":1},"encoding":{"x2":{"field":"b"}}},
{"transform":[{"filter":"datum.k=='s'"}],"mark":{"type":"rule","strokeWidth":1.3,"color":"#333333","yOffset":9.5,"x2Offset":1},"encoding":{"x2":{"field":"b"}}},
{"transform":[{"filter":"datum.k=='l'"}],"mark":{"type":"rule","strokeWidth":1,"xOffset":2.8,"yOffset":-20,"y2Offset":-9.5},"encoding":{"y2":{"datum":1}}},
{"transform":[{"filter":"datum.k=='l' && datum.a<183"}],"mark":{"type":"rule","strokeWidth":1,"xOffset":58.81,"yOffset":-20,"y2Offset":-9.5},"encoding":{"y2":{"datum":1}}},
{"transform":[{"filter":"datum.k=='l'"}],"mark":{"type":"text","fontSize":18.5,"xOffset":2.8,"yOffset":-30,"baseline":"middle"},"encoding":{"text":{"field":"t"}}},
{"transform":[{"filter":"datum.k=='n'"}],"mark":{"type":"text","fontSize":22,"align":"right","baseline":"middle","dx":-4},"encoding":{"text":{"field":"t"}}},
{"transform":[{"filter":"datum.k=='x'"}],"mark":{"type":"rule","color":"#f4b03a","strokeWidth":1.5,"xOffset":2.8,"yOffset":9.5,"y2Offset":14.2},"encoding":{"y2":{"datum":1}}},
{"transform":[{"filter":"datum.k=='x'"}],"mark":{"type":"point","shape":"M-1,-0.52H1V0.52H-1Z","size":1156,"filled":true,"fill":"#f9d77e","stroke":"#f4b03a","strokeWidth":1.3,"opacity":1,"xOffset":2.8,"yOffset":23}},
{"transform":[{"filter":"datum.k=='x'"}],"mark":{"type":"text","fontSize":19,"baseline":"middle","xOffset":2.8,"yOffset":24},"encoding":{"text":{"field":"t"}}}
]},
{"data":{"values":[{"k":"s","a":0,"b":194},
{"k":"l","a":7,"t":"23459"},{"k":"l","a":27,"t":"23479"},{"k":"l","a":47,"t":"23499"},{"k":"l","a":67,"t":"23519"},{"k":"l","a":87,"t":"23539"},{"k":"l","a":107,"t":"23559"},{"k":"l","a":127,"t":"23579"},{"k":"l","a":147,"t":"23599"},{"k":"l","a":167,"t":"23619"},{"k":"l","a":187,"t":"23639"},
{"k":"d","a":0,"b":32},{"k":"d","a":103,"b":131},
{"k":"m","a":23,"b":24},{"k":"m","a":27,"b":29},{"k":"m","a":33,"b":34},{"k":"m","a":92,"b":93},{"k":"m","a":132,"b":133},{"k":"m","a":142,"b":143},{"k":"m","a":150,"b":151},{"k":"m","a":163,"b":164},
{"k":"br","a":109,"b":131,"v":1},{"k":"br","a":103,"b":131,"v":2},
{"k":"x","a":27,"t":"x2","v":0},{"k":"x","a":92,"t":"x6","v":0},{"k":"x","a":120,"t":"x5","v":1},{"k":"x","a":116.2,"t":"x19","v":2}]},
"encoding":{"x":{"field":"a","type":"quantitative","scale":{"domain":[-11.555,198.019],"nice":false,"zero":false},"axis":null},"y":{"datum":2,"type":"quantitative","scale":{"domain":[0.3799,2.9497],"nice":false,"zero":false,"reverse":true},"axis":null}},
"layer":[
{"transform":[{"filter":"datum.k=='d'"}],"mark":{"type":"rule","strokeWidth":19,"color":"#ed1c24"},"encoding":{"x2":{"field":"b"}}},
{"transform":[{"filter":"datum.k=='s'"}],"mark":{"type":"rule","strokeWidth":19,"strokeDash":[1,4.573],"x2Offset":1,"color":"#333333"},"encoding":{"x2":{"field":"b"}}},
{"transform":[{"filter":"datum.k=='m'"}],"mark":{"type":"rule","strokeWidth":19,"color":"#231f20"},"encoding":{"x2":{"field":"b"}}},
{"transform":[{"filter":"datum.k=='s'"}],"mark":{"type":"rule","strokeWidth":1.3,"color":"#333333","yOffset":-9.5,"x2Offset":1},"encoding":{"x2":{"field":"b"}}},
{"transform":[{"filter":"datum.k=='s'"}],"mark":{"type":"rule","strokeWidth":1.3,"color":"#333333","yOffset":9.5,"x2Offset":1},"encoding":{"x2":{"field":"b"}}},
{"transform":[{"filter":"datum.k=='l'"}],"mark":{"type":"rule","strokeWidth":1,"xOffset":2.79,"yOffset":-20,"y2Offset":-9.5},"encoding":{"y2":{"datum":2}}},
{"transform":[{"filter":"datum.k=='l' && datum.a<184"}],"mark":{"type":"rule","strokeWidth":1,"xOffset":58.52,"yOffset":-20,"y2Offset":-9.5},"encoding":{"y2":{"datum":2}}},
{"transform":[{"filter":"datum.k=='l'"}],"mark":{"type":"text","fontSize":18.5,"xOffset":2.79,"yOffset":-30,"baseline":"middle"},"encoding":{"text":{"field":"t"}}},
{"transform":[{"filter":"datum.k=='br' && datum.v==1"}],"mark":{"type":"rule","strokeWidth":1.5,"yOffset":14.6},"encoding":{"x2":{"field":"b"}}},
{"transform":[{"filter":"datum.k=='br' && datum.v==1"}],"mark":{"type":"rule","strokeWidth":1.5,"yOffset":11.3,"y2Offset":18.3},"encoding":{"y2":{"datum":2}}},
{"transform":[{"filter":"datum.k=='br' && datum.v==1"}],"mark":{"type":"rule","strokeWidth":1.5,"yOffset":11.3,"y2Offset":18.3},"encoding":{"x":{"field":"b","type":"quantitative"},"y2":{"datum":2}}},
{"transform":[{"filter":"datum.k=='br' && datum.v==2"}],"mark":{"type":"rule","strokeWidth":1.5,"yOffset":37.6},"encoding":{"x2":{"field":"b"}}},
{"transform":[{"filter":"datum.k=='br' && datum.v==2"}],"mark":{"type":"rule","strokeWidth":1.5,"yOffset":34,"y2Offset":41.6},"encoding":{"y2":{"datum":2}}},
{"transform":[{"filter":"datum.k=='br' && datum.v==2"}],"mark":{"type":"rule","strokeWidth":1.5,"yOffset":34,"y2Offset":41.6},"encoding":{"x":{"field":"b","type":"quantitative"},"y2":{"datum":2}}},
{"transform":[{"filter":"datum.k=='x' && datum.v==0"}],"mark":{"type":"rule","color":"#f4b03a","strokeWidth":1.5,"xOffset":2.79,"yOffset":9.5,"y2Offset":15},"encoding":{"y2":{"datum":2}}},
{"transform":[{"filter":"datum.k=='x' && datum.v==0"}],"mark":{"type":"point","shape":"M-1,-0.52H1V0.52H-1Z","size":1156,"filled":true,"fill":"#f9d77e","stroke":"#f4b03a","strokeWidth":1.3,"opacity":1,"xOffset":2.79,"yOffset":23.8}},
{"transform":[{"filter":"datum.k=='x' && datum.v==0"}],"mark":{"type":"text","fontSize":19,"baseline":"middle","xOffset":2.79,"yOffset":24.8},"encoding":{"text":{"field":"t"}}},
{"transform":[{"filter":"datum.k=='x' && datum.v==1"}],"mark":{"type":"point","shape":"M-1,-0.52H1V0.52H-1Z","size":1156,"filled":true,"fill":"#f9d77e","stroke":"#f4b03a","strokeWidth":1.3,"opacity":1,"xOffset":2.79,"yOffset":26.3}},
{"transform":[{"filter":"datum.k=='x' && datum.v==1"}],"mark":{"type":"text","fontSize":19,"baseline":"middle","xOffset":2.79,"yOffset":27.3},"encoding":{"text":{"field":"t"}}},
{"transform":[{"filter":"datum.k=='x' && datum.v==2"}],"mark":{"type":"point","shape":"M-1,-0.52H1V0.52H-1Z","size":1156,"filled":true,"fill":"#f9d77e","stroke":"#f4b03a","strokeWidth":1.3,"opacity":1,"xOffset":2.79,"yOffset":51.3}},
{"transform":[{"filter":"datum.k=='x' && datum.v==2"}],"mark":{"type":"text","fontSize":19,"baseline":"middle","xOffset":2.79,"yOffset":52.3},"encoding":{"text":{"field":"t"}}}
]}
]}
]}
]}
]
}
